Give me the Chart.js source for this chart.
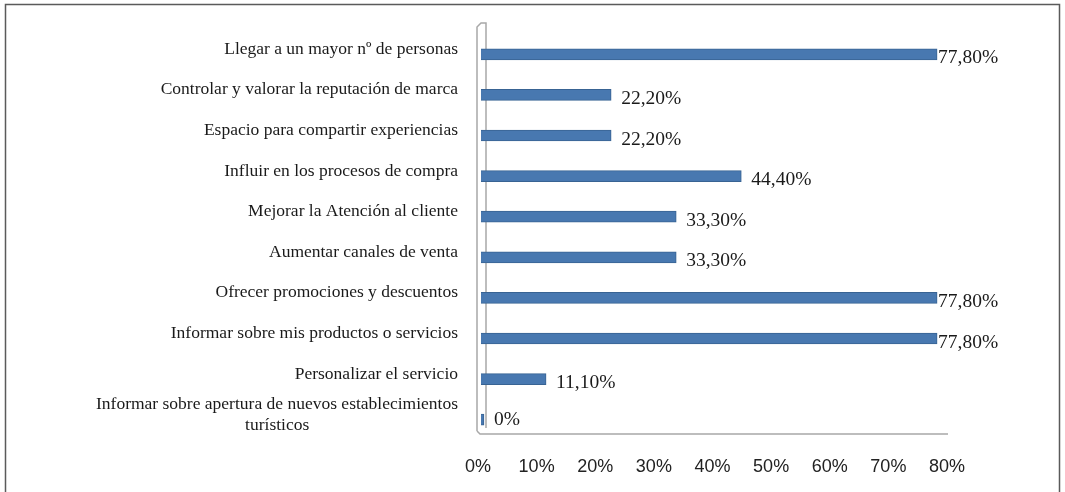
<!DOCTYPE html>
<html>
<head>
<meta charset="utf-8">
<script src="https://cdn.jsdelivr.net/npm/chart.js@4/dist/chart.umd.min.js"></script>
<style>
	html, body { margin: 0; padding: 0; background: #fff; }
	#wrap { width: 1065px; height: 492px; position: relative; }
</style>
</head>
<body>
<div id="wrap"><canvas id="chart"></canvas></div>
<script>
var categories = [
	'Llegar a un mayor nº de personas',
	'Controlar y valorar la reputación de marca',
	'Espacio para compartir experiencias',
	'Influir en los procesos de compra',
	'Mejorar la Atención al cliente',
	'Aumentar canales de venta',
	'Ofrecer promociones y descuentos',
	'Informar sobre mis productos o servicios',
	'Personalizar el servicio',
	['Informar sobre apertura de nuevos establecimientos', 'turísticos']
];
var values = [77.8, 22.2, 22.2, 44.4, 33.3, 33.3, 77.8, 77.8, 11.1, 0];
var xTicks = [0, 10, 20, 30, 40, 50, 60, 70, 80];

var labelFont = '17.5px "Liberation Serif"';

// centre the second line of a wrapped label under the first one
function centreLines(lines) {
	if (typeof lines === 'string') return lines;
	var ctx = document.createElement('canvas').getContext('2d');
	ctx.font = labelFont;
	var widest = 0;
	lines.forEach(function (l) { widest = Math.max(widest, ctx.measureText(l).width); });
	var sp = ctx.measureText('\u00A0').width;
	return lines.map(function (l) {
		var n = Math.round((widest - ctx.measureText(l).width) / 2 / sp);
		return l + '\u00A0'.repeat(n);
	});
}

function fmt(v) {
	return v === 0 ? '0%' : v.toFixed(2).replace('.', ',') + '%';
}

var framePlugin = {
	id: 'frame',
	beforeDraw: function (chart) {
		var ctx = chart.ctx;
		ctx.save();
		ctx.strokeStyle = '#5a5a5a';
		ctx.lineWidth = 1.5;
		ctx.beginPath();
		ctx.moveTo(5.5, chart.height);
		ctx.lineTo(5.5, 4.5);
		ctx.lineTo(1059.5, 4.5);
		ctx.lineTo(1059.5, chart.height);
		ctx.stroke();

		// 3d wall and floor of the plot
		var a = chart.chartArea;
		var L = a.left, T = a.top, B = a.bottom, R = a.right;
		ctx.strokeStyle = '#a8a8a8';
		ctx.beginPath();
		ctx.moveTo(L - 4, B - 9);
		ctx.lineTo(L - 4, T - 7);
		ctx.lineTo(L, T - 11);
		ctx.lineTo(L + 5, T - 11);
		ctx.lineTo(L + 5, B - 12);
		ctx.moveTo(L - 4, B - 9);
		ctx.lineTo(L - 1, B - 6);
		ctx.lineTo(R - 2, B - 6);
		ctx.stroke();
		ctx.restore();
	}
};

var valueLabels = {
	id: 'valueLabels',
	afterDatasetsDraw: function (chart) {
		var ctx = chart.ctx;
		var meta = chart.getDatasetMeta(0);
		ctx.save();
		ctx.font = '19.5px "Liberation Serif"';
		ctx.fillStyle = '#1a1a1a';
		ctx.textBaseline = 'middle';
		ctx.textAlign = 'left';
		meta.data.forEach(function (bar, i) {
			var x = Math.min(bar.x + 10, chart.chartArea.right - 12);
			var y = values[i] === 0 ? bar.y : bar.y + 4;
			ctx.fillText(fmt(values[i]), x, y);
		});
		ctx.restore();
	}
};

new Chart(document.getElementById('chart'), {
	type: 'bar',
	data: {
		labels: categories.map(centreLines),
		datasets: [{
			data: values,
			backgroundColor: '#4878b0',
			borderColor: '#386393',
			borderWidth: 1,
			barThickness: 11,
			minBarLength: 3
		}]
	},
	options: {
		indexAxis: 'y',
		responsive: true,
		maintainAspectRatio: false,
		animation: false,
		layout: { padding: { left: 5, right: 115, top: 34, bottom: 0 } },
		plugins: {
			legend: { display: false },
			tooltip: { enabled: false }
		},
		scales: {
			x: {
				min: 0,
				max: 80,
				afterBuildTicks: function (s) {
					s.ticks = xTicks.map(function (v) { return { value: v }; });
				},
				afterFit: function (s) {
					s.height = 52;
					s.paddingLeft = 0;
					s.paddingRight = 0;
				},
				grid: { display: false, drawTicks: false },
				border: { display: false },
				ticks: {
					padding: 16,
					labelOffset: -3,
					color: '#222',
					font: { family: 'Liberation Sans', size: 18 },
					callback: function (v) { return v + '%'; }
				}
			},
			y: {
				afterFit: function (s) {
					s.width = 476;
					s.paddingTop = 0;
					s.paddingBottom = 0;
				},
				grid: { display: false, drawTicks: false },
				border: { display: false },
				ticks: {
					autoSkip: false,
					padding: 23,
					labelOffset: -5,
					color: '#1a1a1a',
					font: { family: 'Liberation Serif', size: 17.5, lineHeight: 1.2 }
				}
			}
		}
	},
	plugins: [framePlugin, valueLabels]
});
</script>
</body>
</html>
